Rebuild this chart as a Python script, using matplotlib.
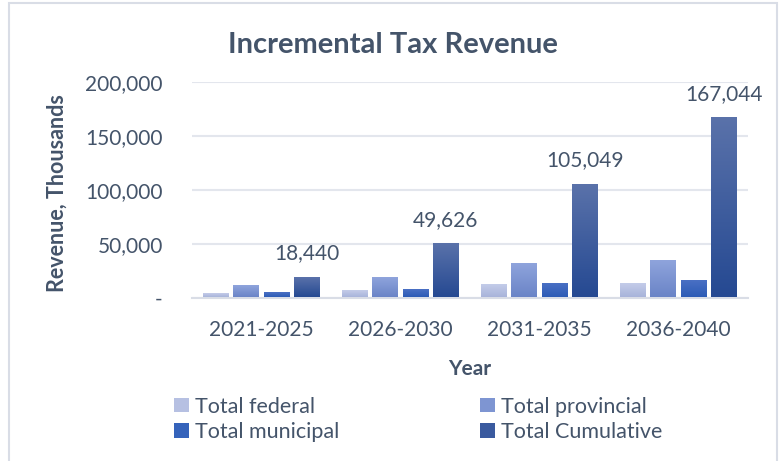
import matplotlib
matplotlib.use("Agg")
import matplotlib.pyplot as plt
import numpy as np
from matplotlib.colors import LinearSegmentedColormap
from matplotlib.patches import Rectangle, Patch
from matplotlib.ticker import FuncFormatter

# ---- data ----
categories = ["2021-2025", "2026-2030", "2031-2035", "2036-2040"]
series_names = ["Total federal", "Total provincial", "Total municipal", "Total Cumulative"]
federal = [3300, 6100, 11500, 12800]
provincial = [10800, 17800, 30900, 33900]
municipal = [4340, 7286, 13023, 15295]
cumulative = [18440, 49626, 105049, 167044]
cumulative_labels = ["18,440", "49,626", "105,049", "167,044"]
y_ticks = [0, 50000, 100000, 150000, 200000]

title = "Incremental Tax Revenue"
x_label = "Year"
y_label = "Revenue, Thousands"

# ---- style ----
FONT = "Lato"
TXT = "#44546a"
grad_colors = [("#c4cce9", "#a8b4da"),
               ("#8fa4dc", "#6a84c7"),
               ("#4a70c4", "#2c5bb6"),
               ("#5a72aa", "#254992")]
legend_colors = ["#b6c0e2", "#7e95d2", "#3563bb", "#3a5a9f"]

W, H = 783, 461
fig = plt.figure(figsize=(W / 100, H / 100), dpi=100)
fig.patch.set_facecolor("white")

# outer frame
fig.add_artist(Rectangle((9 / W, -0.05), (777 - 9) / W, 1.05 - 3 / H,
                         transform=fig.transFigure, fill=False,
                         edgecolor="#d9dde6", linewidth=1.5))

left, right = 192, 748
y0px, y200px = 297.5, 82.5
ax = fig.add_axes([left / W, 1 - y0px / H, (right - left) / W, (y0px - y200px) / H])

x = np.arange(len(categories))
step = 0.218
width = 0.187
all_series = [federal, provincial, municipal, cumulative]
offsets = [-1.5 * step, -0.5 * step, 0.5 * step, 1.5 * step]

grad = np.linspace(0, 1, 256).reshape(-1, 1)
bar_containers = []
for vals, off, (ctop, cbot), name in zip(all_series, offsets, grad_colors, series_names):
    bc = ax.bar(x + off, vals, width, color="none", edgecolor="none", label=name, zorder=3)
    cmap = LinearSegmentedColormap.from_list(name, [ctop, cbot])
    for rect in bc:
        bx, by = rect.get_x(), rect.get_y()
        bw, bh = rect.get_width(), rect.get_height()
        ax.imshow(grad, extent=[bx, bx + bw, by, by + bh], cmap=cmap,
                  aspect="auto", zorder=3, origin="upper", interpolation="bilinear")
    bar_containers.append(bc)

ax.set_xlim(-0.5, len(categories) - 0.5)
ax.set_ylim(0, 200000)
ax.set_yticks(y_ticks)
ax.yaxis.set_major_formatter(FuncFormatter(lambda v, p: "-" if v == 0 else f"{int(v):,}"))
ax.set_xticks(x)
ax.set_xticklabels(categories)

ax.grid(axis="y", color="#e3e6ed", linewidth=1.5, zorder=0)
ax.set_axisbelow(True)
for s in ["top", "right", "left"]:
    ax.spines[s].set_visible(False)
ax.spines["bottom"].set_color("#d9dde6")
ax.spines["bottom"].set_linewidth(1.5)
ax.tick_params(axis="both", length=0, labelsize=15, labelcolor=TXT)
ax.tick_params(axis="y", pad=21)
ax.tick_params(axis="x", pad=16)
for lab in ax.get_xticklabels() + ax.get_yticklabels():
    lab.set_fontfamily(FONT)

# data labels on cumulative bars
for rect, lab in zip(bar_containers[3], cumulative_labels):
    ax.annotate(lab, (rect.get_x() + rect.get_width() / 2, rect.get_height()),
                xytext=(0, 17.5), textcoords="offset points", ha="center", va="center",
                fontsize=15, color=TXT, fontfamily=FONT, zorder=5, annotation_clip=False)

ax.set_xlabel(x_label, fontsize=15, fontweight="bold", color=TXT, fontfamily=FONT, labelpad=14)
fig.text(57 / W, 1 - 193 / H, y_label, rotation=90, ha="center", va="center",
         fontsize=15.5, fontweight="bold", color=TXT, fontfamily=FONT)

fig.text(393 / W, 1 - 44.5 / H, title, ha="center", va="center", fontsize=21,
         fontweight="bold", color=TXT, fontfamily=FONT)

# legend
handles = [Patch(facecolor=c, edgecolor="none") for c in legend_colors]
order = [0, 2, 1, 3]
leg = fig.legend([handles[i] for i in order], [series_names[i] for i in order],
                 ncol=2, loc="center left", bbox_to_anchor=(174 / W, 1 - 419.5 / H),
                 frameon=False, borderpad=0, borderaxespad=0,
                 handlelength=0.68, handleheight=0.68, handletextpad=0.3,
                 columnspacing=6.55, labelspacing=0.27,
                 prop={"family": FONT, "size": 15.5})
for t in leg.get_texts():
    t.set_color(TXT)

fig.savefig("out.png", dpi=100, facecolor="white")
